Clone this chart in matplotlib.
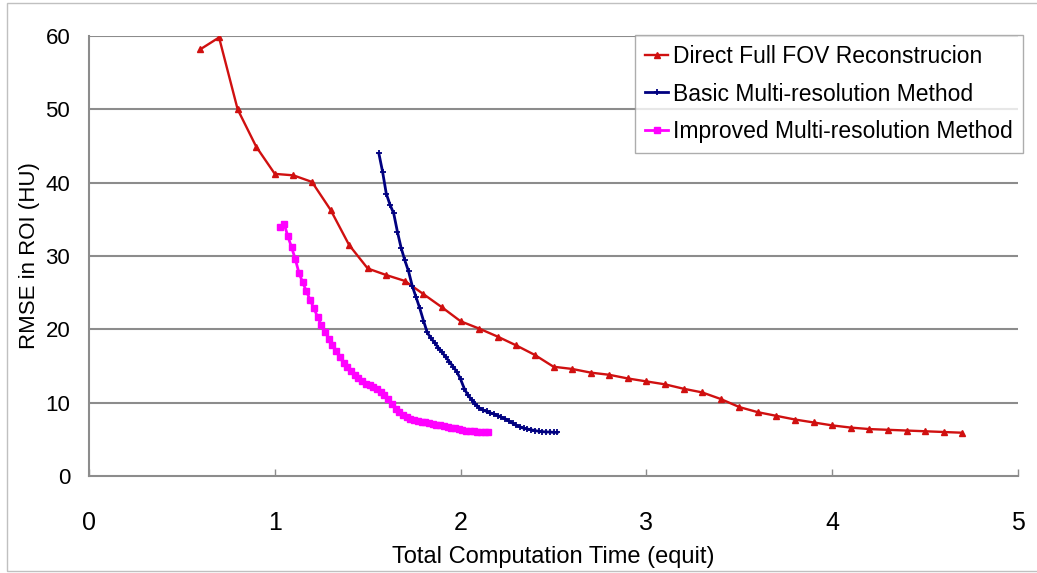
import matplotlib
matplotlib.use("Agg")
import matplotlib.pyplot as plt
from matplotlib.patches import Rectangle

plt.rcParams['font.family'] = ['Liberation Sans', 'DejaVu Sans']

# Direct Full FOV Reconstrucion
red_x = [0.6, 0.7, 0.8, 0.9, 1.0, 1.1, 1.2, 1.3, 1.4, 1.5, 1.6, 1.7, 1.8, 1.9, 2.0,
         2.1, 2.2, 2.3, 2.4, 2.5, 2.6, 2.7, 2.8, 2.9, 3.0, 3.1, 3.2, 3.3, 3.4, 3.5,
         3.6, 3.7, 3.8, 3.9, 4.0, 4.1, 4.2, 4.3, 4.4, 4.5, 4.6, 4.7]
red_y = [58.2, 59.8, 50.0, 44.9, 41.2, 41.0, 40.1, 36.3, 31.5, 28.3, 27.4, 26.6, 24.8,
         23.0, 21.1, 20.1, 19.0, 17.8, 16.5, 14.9, 14.6, 14.1, 13.8, 13.3, 12.9, 12.5,
         11.9, 11.4, 10.5, 9.4, 8.7, 8.2, 7.7, 7.3, 6.9, 6.6, 6.4, 6.3, 6.2, 6.1, 6.0, 5.9]

# Basic Multi-resolution Method
blue_x = [1.56, 1.58, 1.60, 1.62, 1.64, 1.66, 1.68, 1.70, 1.72, 1.74, 1.76, 1.78, 1.80,
          1.82, 1.84, 1.86, 1.88, 1.90, 1.92, 1.94, 1.96, 1.98, 2.00, 2.02, 2.04, 2.06,
          2.08, 2.10, 2.12, 2.14, 2.16, 2.18, 2.20, 2.22, 2.24, 2.26, 2.28, 2.30, 2.32,
          2.34, 2.36, 2.38, 2.40, 2.42, 2.44, 2.46, 2.48, 2.50, 2.52]
blue_y = [44.0, 41.5, 38.5, 37.0, 35.8, 33.3, 31.1, 29.4, 27.9, 25.9, 24.4, 22.9, 21.2,
          19.6, 18.8, 18.2, 17.5, 16.9, 16.2, 15.6, 14.9, 14.2, 13.2, 11.9, 11.0, 10.4,
          9.8, 9.3, 9.0, 8.8, 8.6, 8.45, 8.25, 8.0, 7.8, 7.5, 7.2, 6.9, 6.7, 6.5, 6.4,
          6.3, 6.2, 6.1, 6.05, 6.0, 6.0, 5.95, 5.95]

# Improved Multi-resolution Method
mag_x = [1.03, 1.05, 1.07, 1.09, 1.11, 1.13, 1.15, 1.17, 1.19, 1.21, 1.23, 1.25, 1.27,
         1.29, 1.31, 1.33, 1.35, 1.37, 1.39, 1.41, 1.43, 1.45, 1.47, 1.49, 1.51, 1.53,
         1.55, 1.57, 1.59, 1.61, 1.63, 1.65, 1.67, 1.69, 1.71, 1.73, 1.75, 1.77, 1.79,
         1.81, 1.83, 1.85, 1.87, 1.89, 1.91, 1.93, 1.95, 1.97, 1.99, 2.01, 2.03, 2.05,
         2.07, 2.09, 2.11, 2.13, 2.15]
mag_y = [34.0, 34.4, 32.7, 31.2, 29.6, 27.7, 26.4, 25.2, 24.0, 22.9, 21.7, 20.6, 19.7,
         18.7, 17.8, 17.0, 16.2, 15.4, 14.8, 14.3, 13.8, 13.3, 12.9, 12.6, 12.4, 12.1,
         11.8, 11.5, 11.1, 10.5, 9.8, 9.1, 8.7, 8.3, 8.0, 7.8, 7.6, 7.5, 7.4, 7.3, 7.2,
         7.1, 7.0, 6.95, 6.85, 6.7, 6.6, 6.5, 6.4, 6.3, 6.2, 6.15, 6.1, 6.05, 6.0, 6.0, 5.95]

labels = ["Direct Full FOV Reconstrucion", "Basic Multi-resolution Method",
          "Improved Multi-resolution Method"]
x_ticks = [0, 1, 2, 3, 4, 5]
y_ticks = [0, 10, 20, 30, 40, 50, 60]

fig = plt.figure(figsize=(10.37, 5.73), dpi=100)
ax = fig.add_axes([89/1037, 1 - 476/573, (1018 - 89)/1037, (476 - 36)/573])

grid_c = '#8c8c8c'
for yv in y_ticks[1:]:
    ax.axhline(yv, color=grid_c, lw=1.5, zorder=1)

ax.plot(red_x, red_y, color='#d01010', lw=1.7, marker='^', ms=4.5, label=labels[0], zorder=3)
ax.plot(blue_x, blue_y, color='#000080', lw=2.0, marker='+', ms=4, mew=1.3, label=labels[1], zorder=3)
ax.plot(mag_x, mag_y, color='#ff00ff', lw=2.0, marker='s', ms=4.5, label=labels[2], zorder=3)

ax.set_xlim(0, 5)
ax.set_ylim(0, 60)
ax.set_xticks(x_ticks)
ax.set_yticks(y_ticks)
ax.tick_params(axis='x', direction='in', length=5, width=1, color=grid_c, labelsize=18, pad=25)
ax.tick_params(axis='y', length=0, labelsize=16, pad=13.5)
for s in ['top', 'right']:
    ax.spines[s].set_visible(False)
for s in ['left', 'bottom']:
    ax.spines[s].set_color(grid_c)
    ax.spines[s].set_linewidth(1.5)

ax.set_xlabel("Total Computation Time (equit)", fontsize=17, labelpad=8)
ax.set_ylabel("RMSE in ROI (HU)", fontsize=16, labelpad=4)

leg = ax.legend(loc='upper right', bbox_to_anchor=(1023/1037, 1 - 35/573),
                bbox_transform=fig.transFigure, fontsize=16.5, frameon=True,
                fancybox=False, edgecolor='#999999', handlelength=1.0,
                handletextpad=0.2, borderpad=0.45, labelspacing=0.62,
                borderaxespad=0)
leg.get_frame().set_linewidth(1.0)

fig.patches.append(Rectangle((7/1037, 2/573), 1.0, 1 - 5/573, transform=fig.transFigure,
                             fill=False, edgecolor='#c0c0c0', lw=1.0))

fig.savefig("out.png", dpi=100)
